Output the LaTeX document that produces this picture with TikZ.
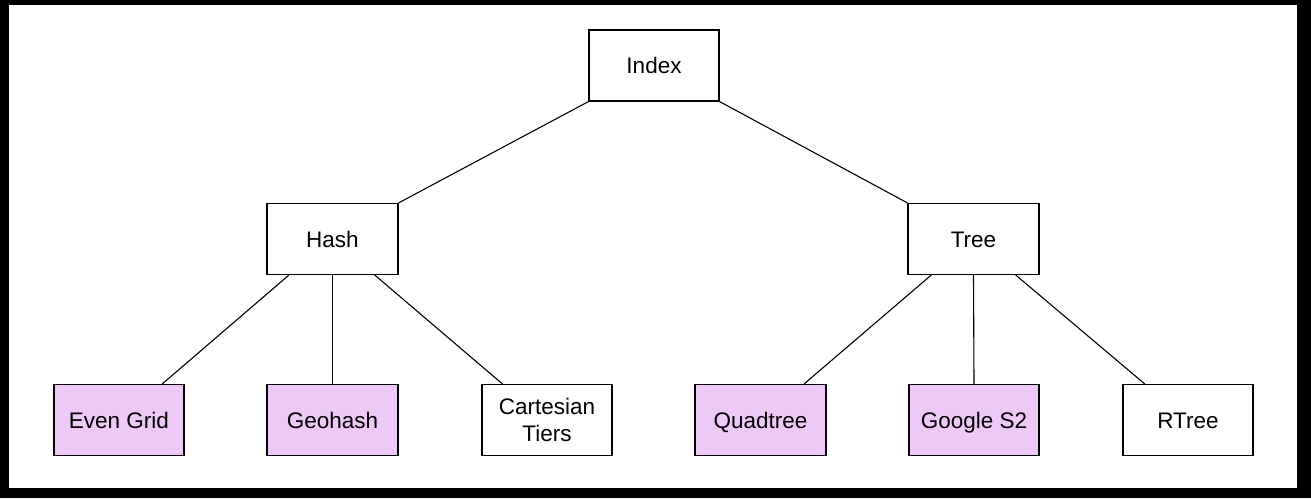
\documentclass[tikz,border=0pt]{standalone}
\usepackage{fontspec}
\setmainfont{Liberation Sans}
\usetikzlibrary{calc}
\definecolor{lav}{RGB}{238,200,246}
\begin{document}
\begin{tikzpicture}[x=1pt,y=-1pt,
  box/.style={draw=black,line width=1.2pt,fill=white,minimum width=130pt,minimum height=71pt,inner sep=0pt,font=\fontsize{22.5}{27}\selectfont,text height=16.2pt,text depth=0pt},
  leaf/.style={box,fill=lav},
  edge/.style={draw=black,line width=1.1pt}]
\useasboundingbox (0,0) rectangle (1311,498);
\fill[black] (0,0) rectangle (1311,498);
\fill[white] (9,5) rectangle (1297,488);
\node[box] (index) at (654,65.5) {Index};
\node[box,minimum width=131pt] (hash) at (332.5,239) {Hash};
\node[box,minimum width=131pt] (tree) at (973.5,239) {Tree};
\node[leaf] (even) at (119,420) {Even Grid};
\node[leaf,minimum width=131pt] (geo) at (332.5,420) {Geohash};
\node[box,text height=,text depth=,align=center] (cart) at (547,420) {Cartesian\\Tiers};
\node[leaf,minimum width=131pt] (quad) at (760.5,420) {Quadtree};
\node[leaf] (s2) at (974,420) {Google S2};
\node[box] (rtree) at (1188,420) {RTree};
\draw[edge] (index.south west) -- (hash.north east);
\draw[edge] (index.south east) -- (tree.north west);
\draw[edge] ($(hash.south west)!0.17!(hash.south east)$) -- ($(even.north west)!0.83!(even.north east)$);
\draw[edge] (hash.south) -- (geo.north);
\draw[edge] ($(hash.south west)!0.82!(hash.south east)$) -- ($(cart.north west)!0.16!(cart.north east)$);
\draw[edge] ($(tree.south west)!0.18!(tree.south east)$) -- ($(quad.north west)!0.83!(quad.north east)$);
\draw[edge] (tree.south) -- (s2.north);
\draw[edge] ($(tree.south west)!0.82!(tree.south east)$) -- ($(rtree.north west)!0.17!(rtree.north east)$);
\end{tikzpicture}
\end{document}
